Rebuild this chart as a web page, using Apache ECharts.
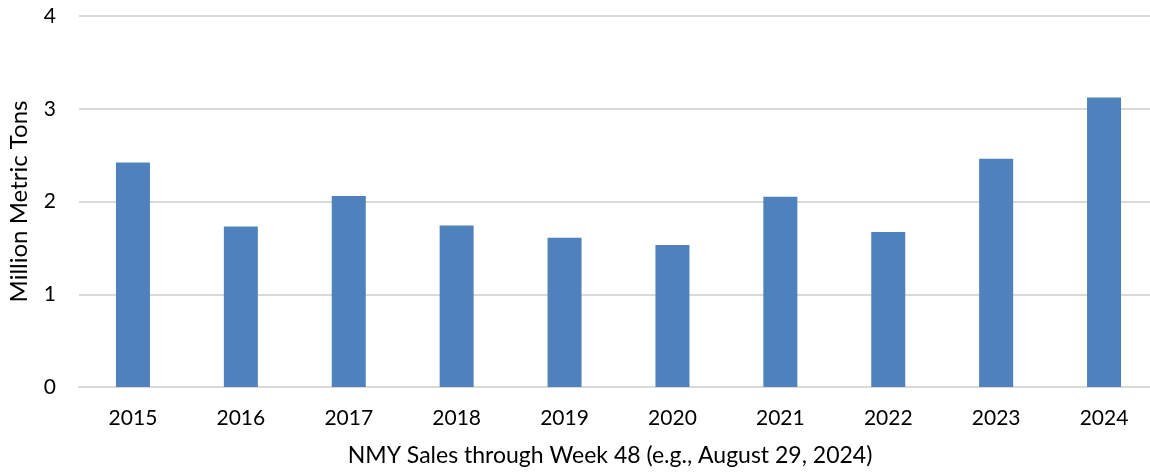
<!DOCTYPE html>
<html>
<head>
<meta charset="utf-8">
<script src="https://cdn.jsdelivr.net/npm/echarts@6/dist/echarts.min.js"></script>
<style>
html,body{margin:0;padding:0;background:#fff;}
#chart{width:1150px;height:473px;}
</style>
</head>
<body>
<div id="chart"></div>
<script>
const categories = ['2015','2016','2017','2018','2019','2020','2021','2022','2023','2024'];
const sales = [2.42, 1.73, 2.06, 1.74, 1.61, 1.53, 2.05, 1.67, 2.46, 3.12];
const yTicks = {min: 0, max: 4, interval: 1};
const xTitle = 'NMY Sales through Week 48 (e.g., August 29, 2024)';
const yTitle = 'Million Metric Tons';

const FONT = 'Lato, "Open Sans", sans-serif';
const chart = echarts.init(document.getElementById('chart'), null, {renderer: 'canvas'});
chart.setOption({
  animation: false,
  backgroundColor: '#ffffff',
  grid: {left: 79, top: 16, width: 1079, height: 371, outerBoundsMode: 'none', containLabel: false},
  xAxis: {
    type: 'category',
    data: categories,
    axisTick: {show: false},
    axisLine: {lineStyle: {color: '#d9d9d9', width: 2}},
    axisLabel: {color: '#000', fontFamily: FONT, fontSize: 21, margin: 21},
    name: xTitle,
    nameLocation: 'middle',
    nameGap: 57,
    nameTextStyle: {color: '#000', fontFamily: FONT, fontSize: 23, padding: [0, 17, 0, 0]}
  },
  yAxis: {
    type: 'value',
    min: yTicks.min, max: yTicks.max, interval: yTicks.interval,
    axisLine: {show: false},
    axisTick: {show: false},
    splitLine: {lineStyle: {color: '#d9d9d9', width: 2}},
    axisLabel: {color: '#000', fontFamily: FONT, fontSize: 21, margin: 23},
    name: yTitle,
    nameLocation: 'middle',
    nameGap: 48,
    nameTextStyle: {color: '#000', fontFamily: FONT, fontSize: 24}
  },
  series: [{
    type: 'bar',
    data: sales,
    barWidth: 34,
    itemStyle: {color: '#4f81bd'}
  }]
});
</script>
</body>
</html>
